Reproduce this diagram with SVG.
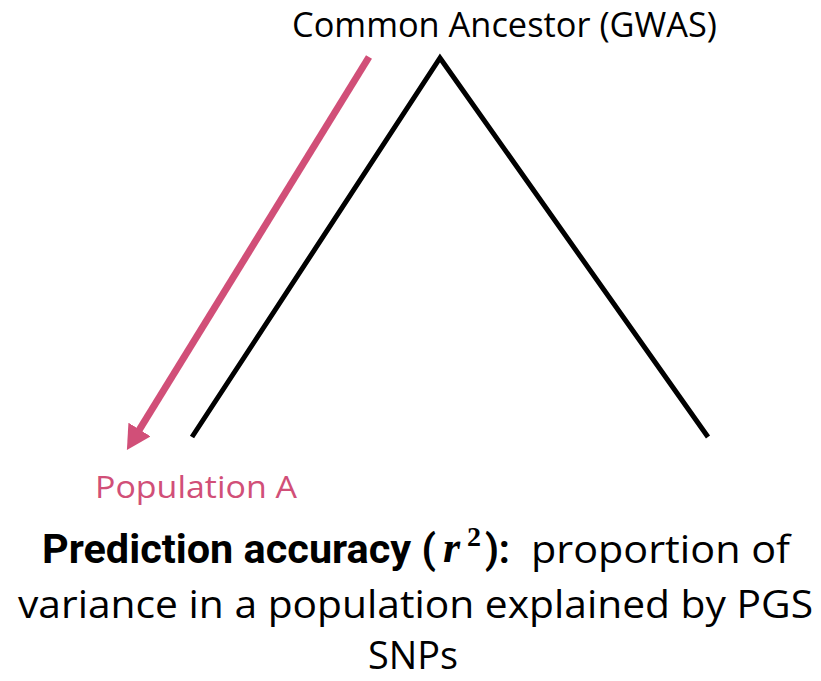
<svg xmlns="http://www.w3.org/2000/svg" width="821" height="681" viewBox="0 0 821 681">
<style>
.t{font-family:"Open Sans","Noto Sans","Liberation Sans",sans-serif;fill:#000}
.b{font-family:Roboto,"Open Sans","Liberation Sans",sans-serif;font-weight:bold}
.pink{fill:#D14F78}
.math{font-family:"Liberation Serif","DejaVu Serif",serif;font-weight:bold}
</style>
<defs>
<marker id="ah" markerUnits="userSpaceOnUse" viewBox="0 0 24 26" markerWidth="24" markerHeight="26" refX="4" refY="13" orient="auto">
<path d="M0,0 L24,13 L0,26 z" fill="#D14F78"/>
</marker>
</defs>
<rect width="821" height="681" fill="#fff"/>
<g id="ancestor">
<text class="t" x="292" y="37" font-size="34" textLength="425" lengthAdjust="spacingAndGlyphs">Common Ancestor (GWAS)</text>
</g>
<g id="connectors">
<polyline points="192,437 440,58 708,437" fill="none" stroke="#000" stroke-width="5" stroke-linejoin="miter"/>
<line x1="369" y1="57" x2="137.4" y2="432.9" stroke="#D14F78" stroke-width="7" marker-end="url(#ah)"/>
</g>
<g id="populationA">
<text class="t pink" x="95" y="498" font-size="31" textLength="202" lengthAdjust="spacingAndGlyphs">Population A</text>
</g>
<g id="caption">
<text class="t" y="563" font-size="39"><tspan class="b" x="42" font-size="40" textLength="394" lengthAdjust="spacingAndGlyphs">Prediction accuracy (</tspan><tspan class="math" x="443" y="562" font-size="44" font-style="italic">r</tspan><tspan class="math" x="467" y="546" font-size="28">2</tspan><tspan class="b" x="485" y="563" font-size="40" textLength="25" lengthAdjust="spacingAndGlyphs">):</tspan><tspan x="531" textLength="259" lengthAdjust="spacingAndGlyphs">proportion of</tspan></text>
<text class="t" x="18" y="618" font-size="39" textLength="795" lengthAdjust="spacingAndGlyphs">variance in a population explained by PGS</text>
<text class="t" x="368" y="669" font-size="39" textLength="90" lengthAdjust="spacingAndGlyphs">SNPs</text>
</g>
</svg>
